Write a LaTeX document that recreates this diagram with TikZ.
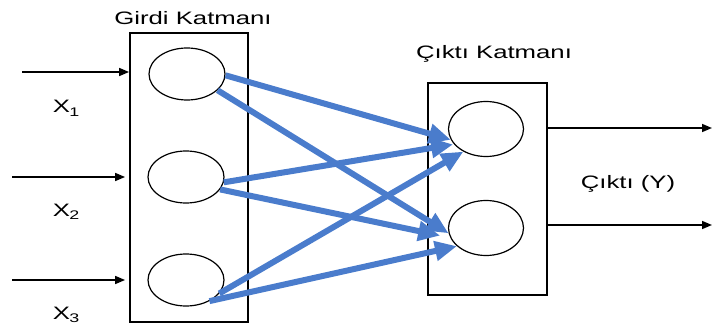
\documentclass[tikz,border=0pt]{standalone}
\usepackage{fontspec}
\setmainfont{Liberation Sans}
\usetikzlibrary{arrows.meta,shapes.geometric}
\definecolor{wblue}{RGB}{74,124,204}
\tikzset{
  layerbox/.style={draw=black, line width=1.8pt, inner sep=0pt},
  neuron/.style={draw=black, ellipse, line width=1.2pt, inner sep=0pt, minimum width=76pt, minimum height=52pt},
  weight/.style={draw=wblue, line width=6pt, -{Triangle[length=22pt,width=19pt]}},
  signal/.style={draw=black, line width=1.5pt, -{Triangle[length=10pt,width=8pt]}},
  lbl/.style={font=\fontsize{18}{20}\selectfont, xscale=1.43, inner sep=0pt, anchor=base},
}
\newcommand{\xsub}[1]{X\kern-0.5pt\raisebox{-0.4ex}{\fontsize{12.5}{12.5}\selectfont #1}}
\begin{document}
\begin{tikzpicture}[x=1pt,y=-1pt]
\useasboundingbox (0,0) rectangle (712,326);
% boxes
\node[layerbox, minimum width=118pt, minimum height=289pt] (inbox) at (189,177.5) {};
\node[layerbox, minimum width=119pt, minimum height=212pt] (outbox) at (487.5,189) {};
% neurons
\node[neuron] (i1) at (187,74) {};
\node[neuron] (i2) at (186,177) {};
\node[neuron] (i3) at (186,280) {};
\node[neuron, minimum width=75pt, minimum height=55pt] (o1) at (486,129) {};
\node[neuron, minimum width=75pt, minimum height=55pt] (o2) at (486,228) {};
% labels
\node[lbl] (tin) at (193,25) {Girdi Katmanı};
\node[lbl] (tout) at (494,59) {Çıktı Katmanı};
\node[lbl] (ty) at (628,188) {Çıktı (Y)};
\node[lbl] (x1) at (66,113) {\xsub{1}};
\node[lbl] (x2) at (66,216) {\xsub{2}};
\node[lbl] (x3) at (66,319) {\xsub{3}};
% input arrows
\coordinate (a1) at (22,72);
\coordinate (a2) at (12,177);
\coordinate (a3) at (12,280);
\draw[signal] (a1) -- (a1 -| inbox.west);
\draw[signal] (a2) -- ([xshift=-4pt]a2 -| inbox.west);
\draw[signal] (a3) -- ([xshift=-4pt]a3 -| inbox.west);
% output arrows
\coordinate (b1) at (712,128);
\coordinate (b2) at (712,225);
\draw[signal] (b1 -| outbox.east) -- (b1);
\draw[signal] (b2 -| outbox.east) -- (b2);
% weights
\draw[weight] (i1.-2) -- (o1.197);
\draw[weight] (i1.-28) -- (o2.188);
\draw[weight] (i2.-8) -- ([shift={(-2pt,1pt)}]o1.208);
\draw[weight] (i2.-20) -- ([shift={(-10pt,2pt)}]o2.195);
\draw[weight] (i3.-22) -- (o1.225);
\draw[weight] (i3.-42) -- (o2.212);
\end{tikzpicture}
\end{document}
